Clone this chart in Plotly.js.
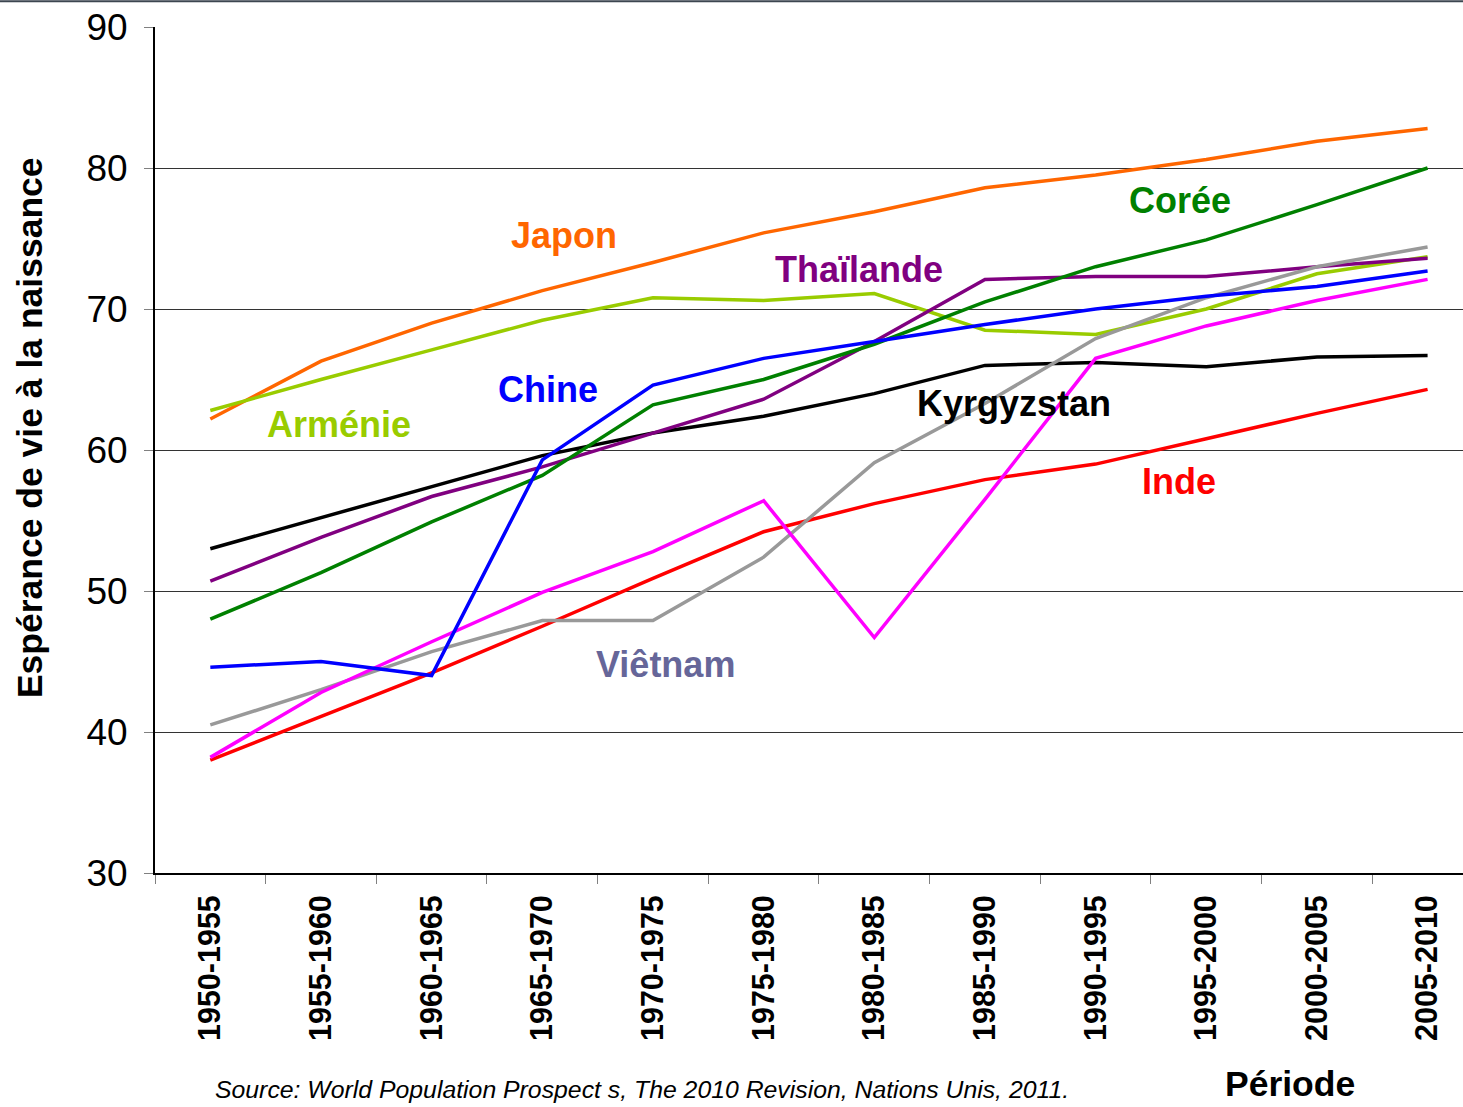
<!DOCTYPE html>
<html>
<head>
<meta charset="utf-8">
<script src="https://cdn.plot.ly/plotly-3.0.1.min.js"></script>
<style>
  body { margin: 0; padding: 0; background: #fff; }
  #graph { width: 1463px; height: 1107px; }
</style>
</head>
<body>
<div id="graph"></div>
<script>
const periodes = ['1950-1955', '1955-1960', '1960-1965', '1965-1970', '1970-1975', '1975-1980',
    '1980-1985', '1985-1990', '1990-1995', '1995-2000', '2000-2005', '2005-2010'];
const japon = [62.2, 66.3, 69.0, 71.3, 73.3, 75.4, 76.9, 78.6, 79.5, 80.6, 81.9, 82.8];
const armenie = [62.8, 65.0, 67.1, 69.2, 70.8, 70.6, 71.1, 68.5, 68.2, 70.0, 72.5, 73.7];
const chine = [44.6, 45.0, 44.0, 59.3, 64.6, 66.5, 67.7, 68.9, 70.0, 70.9, 71.6, 72.7];
const coree = [48.0, 51.3, 54.9, 58.2, 63.2, 65.0, 67.5, 70.5, 73.0, 74.9, 77.4, 80.0];
const thailande = [50.7, 53.8, 56.7, 58.8, 61.2, 63.6, 67.7, 72.1, 72.3, 72.3, 73.0, 73.6];
const kyrgyzstan = [53.0, 55.2, 57.4, 59.6, 61.2, 62.4, 64.0, 66.0, 66.2, 65.9, 66.6, 66.7];
const inde = [38.0, 41.1, 44.2, 47.5, 50.9, 54.2, 56.2, 57.9, 59.0, 60.8, 62.6, 64.3];
const vietnam = [40.5, 43.0, 45.7, 47.9, 47.9, 52.4, 59.1, 63.3, 67.9, 70.8, 73.0, 74.4];
const cambodge = [38.2, 42.8, 46.4, 49.9, 52.8, 56.4, 46.7, 56.5, 66.5, 68.8, 70.6, 72.1];

const font = 'Liberation Sans, Arial, sans-serif';

function serie(y, nom, couleur) {
    return {
        x: periodes,
        y: y,
        type: 'scatter',
        mode: 'lines',
        name: nom,
        line: { color: couleur, width: 3.5 },
        hoverinfo: 'skip'
    };
}

// order roughly as drawn (later ones on top)
let data = [
    serie(japon, 'Japon', '#FF6600'),
    serie(armenie, 'Arménie', '#99CC00'),
    serie(inde, 'Inde', '#FF0000'),
    serie(kyrgyzstan, 'Kyrgyzstan', '#000000'),
    serie(thailande, 'Thaïlande', '#800080'),
    serie(coree, 'Corée', '#008000'),
    serie(vietnam, 'Viêtnam', '#999999'),
    serie(cambodge, 'Cambodge', '#FF00FF'),
    serie(chine, 'Chine', '#0000FF')
];

function etiquette(texte, x, y, couleur) {
    return {
        text: texte, x: x, y: y, xref: 'x', yref: 'y',
        showarrow: false,
        font: { family: font, size: 36, color: couleur, weight: 'bold' }
    };
}

let layout = {
    width: 1463,
    height: 1107,
    margin: { l: 155, r: 0, t: 27, b: 234 },
    paper_bgcolor: '#ffffff',
    plot_bgcolor: '#ffffff',
    showlegend: false,
    hovermode: false,
    xaxis: {
        type: 'category',
        range: [-0.5, 11.32],
        tickangle: -90,
        tickson: 'boundaries',
        ticks: 'outside',
        ticklen: 9,
        tickcolor: '#808080',
        ticklabelstandoff: 8,
        tickfont: { family: font, size: 30.5, color: '#000', weight: 'bold' },
        showgrid: false,
        showline: true,
        linecolor: '#000',
        linewidth: 2,
        zeroline: false
    },
    yaxis: {
        range: [30, 90],
        tickvals: [30, 40, 50, 60, 70, 80, 90],
        ticks: 'outside',
        ticklen: 9,
        tickcolor: '#808080',
        ticklabelstandoff: 9,
        tickfont: { family: font, size: 37, color: '#000' },
        showgrid: true,
        gridcolor: '#333333',
        gridwidth: 1,
        showline: true,
        linecolor: '#000',
        linewidth: 2,
        zeroline: false
    },
    shapes: [{
        type: 'line', xref: 'paper', yref: 'paper',
        x0: -0.12, x1: 1, y0: 1.0303, y1: 1.0303,
        line: { color: '#3c4650', width: 2 }
    }],
    annotations: [
        etiquette('Japon', 3.2, 75.2, '#FF6600'),
        etiquette('Arménie', 1.165, 61.8, '#99CC00'),
        etiquette('Chine', 3.05, 64.3, '#0000FF'),
        etiquette('Thaïlande', 5.86, 72.8, '#800080'),
        etiquette('Corée', 8.76, 77.7, '#008000'),
        etiquette('Kyrgyzstan', 7.26, 63.3, '#000000'),
        etiquette('Inde', 8.75, 57.8, '#FF0000'),
        etiquette('Viêtnam', 4.11, 44.8, '#666699'),
        {
            text: 'Espérance de vie à la naissance',
            xref: 'paper', yref: 'paper', x: -0.0956, y: 0.527,
            xanchor: 'center', yanchor: 'middle',
            textangle: -90, showarrow: false,
            font: { family: font, size: 35.5, color: '#000', weight: 'bold' }
        },
        {
            text: 'Période',
            xref: 'paper', yref: 'paper', x: 0.868, y: -0.2494,
            xanchor: 'center', yanchor: 'middle',
            showarrow: false,
            font: { family: font, size: 35.5, color: '#000', weight: 'bold' }
        },
        {
            text: 'Source: World Population Prospect s, The 2010 Revision, Nations Unis, 2011.',
            xref: 'paper', yref: 'paper', x: 0.0443, y: -0.2565,
            xanchor: 'left', yanchor: 'middle',
            showarrow: false,
            font: { family: font, size: 24.8, color: '#000', style: 'italic' }
        }
    ]
};

var config = { responsive: false, displayModeBar: false, staticPlot: true };
Plotly.newPlot("graph", data, layout, config);
</script>
</body>
</html>
